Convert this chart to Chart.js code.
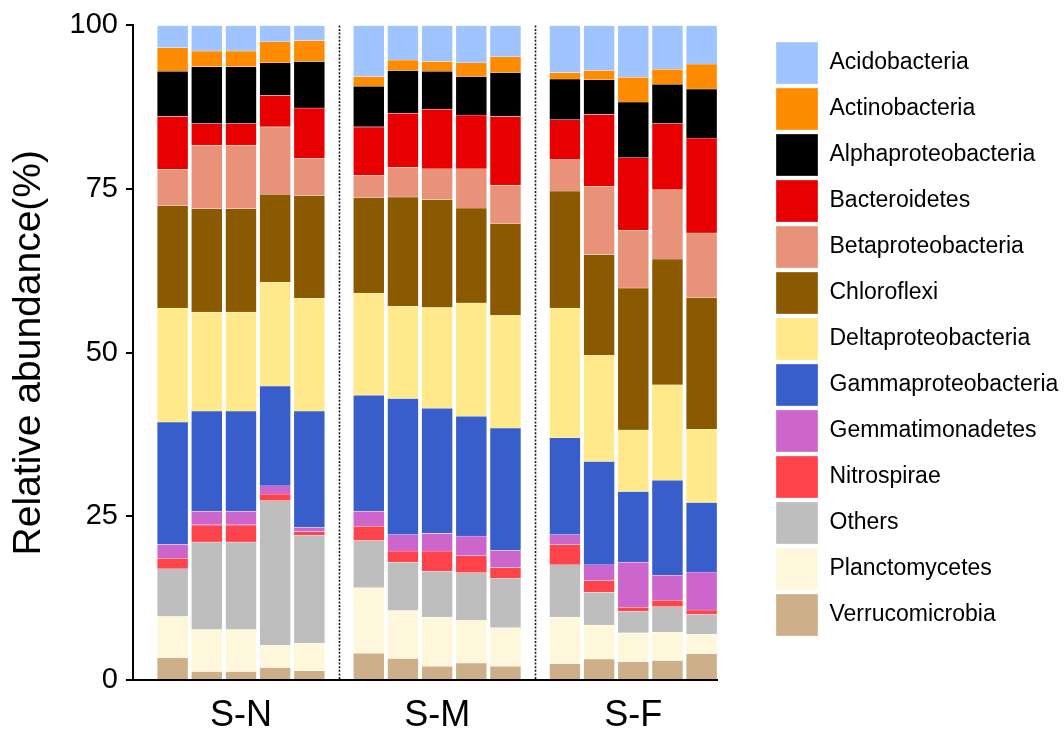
<!DOCTYPE html>
<html lang="en">
<head>
    <meta charset="UTF-8">
    <title>Relative abundance</title>
    <style>
        body { margin: 0; background: #fff; }
        #chart-holder { width: 1064px; height: 733px; }
    </style>
</head>
<body>
    <div id="chart-holder">
        <canvas id="abundanceChart" width="1064" height="733"></canvas>
    </div>

    <script src="https://cdn.jsdelivr.net/npm/chart.js"></script>
    <script>
        // groups of 5 samples each (S-N, S-M, S-F)
        const groups = ['S-N', 'S-M', 'S-F'];
        const perGroup = 5;

        // legend order, top to bottom
        const taxa = ['Acidobacteria', 'Actinobacteria', 'Alphaproteobacteria', 'Bacteroidetes',
            'Betaproteobacteria', 'Chloroflexi', 'Deltaproteobacteria', 'Gammaproteobacteria',
            'Gemmatimonadetes', 'Nitrospirae', 'Others', 'Planctomycetes', 'Verrucomicrobia'];

        const taxaColors = ['#a0c4ff', '#ff8c00', '#000000', '#e80000', '#e8927a', '#8b5a00',
            '#ffe98a', '#385ecc', '#cc66cc', '#ff434b', '#bebebe', '#fff7dc', '#cdb08a'];

        // relative abundance (%) per sample: S-N x5, S-M x5, S-F x5
        const acidobacteria       = [3.4, 3.9, 3.9, 2.5, 2.3,   7.8, 5.3, 5.5, 5.7, 4.8,   7.2, 6.9, 7.9, 6.7, 5.9];
        const actinobacteria      = [3.6, 2.4, 2.4, 3.2, 3.2,   1.5, 1.6, 1.5, 2.1, 2.4,   1.0, 1.4, 3.8, 2.3, 3.8];
        const alphaproteobacteria = [6.9, 8.7, 8.7, 5.0, 7.1,   6.2, 6.5, 5.8, 5.9, 6.7,   6.2, 5.3, 8.5, 6.0, 7.5];
        const bacteroidetes       = [8.1, 3.3, 3.3, 4.8, 7.7,   7.4, 8.3, 9.1, 8.2, 10.5,  6.1, 11.0, 11.1, 10.1, 14.5];
        const betaproteobacteria  = [5.5, 9.7, 9.7, 10.3, 5.7,  3.4, 4.5, 4.7, 6.0, 5.9,   4.8, 10.4, 8.8, 10.6, 9.9];
        const chloroflexi         = [15.7, 15.8, 15.8, 13.4, 15.7,  14.6, 16.7, 16.5, 14.5, 14.0,  17.9, 15.4, 21.7, 19.2, 20.1];
        const deltaproteobacteria = [17.4, 15.1, 15.1, 15.9, 17.2,  15.6, 14.1, 15.4, 17.3, 17.2,  19.8, 16.2, 9.4, 14.6, 11.2];
        const gammaproteobacteria = [18.7, 15.3, 15.3, 15.2, 17.8,  17.7, 20.8, 19.1, 18.3, 18.7,  14.8, 15.8, 10.8, 14.5, 10.6];
        const gemmatimonadetes    = [2.1, 2.1, 2.1, 1.3, 0.6,   2.3, 2.5, 2.7, 3.0, 2.6,   1.5, 2.4, 6.9, 3.8, 5.8];
        const nitrospirae         = [1.6, 2.6, 2.6, 1.0, 0.6,   2.2, 1.7, 3.1, 2.6, 1.7,   3.1, 1.8, 0.6, 1.0, 0.7];
        const others              = [7.3, 13.4, 13.4, 22.1, 16.5,  7.2, 7.4, 7.0, 7.3, 7.5,  8.0, 5.0, 3.3, 3.9, 3.0];
        const planctomycetes      = [6.3, 6.4, 6.4, 3.4, 4.2,   10.0, 7.3, 7.5, 6.5, 5.9,  7.1, 5.2, 4.4, 4.3, 3.0];
        const verrucomicrobia     = [3.4, 1.3, 1.3, 1.9, 1.4,   4.1, 3.3, 2.1, 2.6, 2.1,   2.5, 3.2, 2.8, 3.0, 4.0];

        const taxaValues = [acidobacteria, actinobacteria, alphaproteobacteria, bacteroidetes,
            betaproteobacteria, chloroflexi, deltaproteobacteria, gammaproteobacteria,
            gemmatimonadetes, nitrospirae, others, planctomycetes, verrucomicrobia];

        const yTicks = [0, 25, 50, 75, 100];

        // layout on the linear x axis: one unit per bar, extra space between groups
        const groupStride = 5.74;
        const xOf = (i) => Math.floor(i / perGroup) * groupStride + (i % perGroup);

        // the left padding is negative so the right legend gets enough room;
        // the y axis box is widened by the same amount
        const padLeft = -900;
        const legendWidth = 290;

        Chart.defaults.font.family = "'Liberation Sans', Arial, Helvetica, sans-serif";
        Chart.defaults.color = '#000';

        // stack from the bottom (Verrucomicrobia) up to Acidobacteria
        const datasets = taxa.map((name, k) => ({
            label: name,
            data: taxaValues[k].map((v, i) => ({ x: xOf(i), y: v })),
            backgroundColor: taxaColors[k],
            borderColor: 'rgba(255,255,255,0.55)',
            borderWidth: 0.6,
            barThickness: 31
        })).reverse();

        // dotted lines between the groups
        const groupSeparators = {
            id: 'groupSeparators',
            afterDatasetsDraw(chart) {
                const { ctx, chartArea, scales } = chart;
                ctx.save();
                ctx.strokeStyle = '#1a1a1a';
                ctx.lineWidth = 1.6;
                ctx.setLineDash([2, 1.6]);
                for (let g = 1; g < groups.length; g++) {
                    const lastBar = (g - 1) * groupStride + perGroup - 1;
                    const px = Math.round(scales.x.getPixelForValue((lastBar + g * groupStride) / 2)) + 0.5;
                    ctx.beginPath();
                    ctx.moveTo(px, chartArea.top);
                    ctx.lineTo(px, chartArea.bottom);
                    ctx.stroke();
                }
                ctx.restore();
            }
        };

        const ctx = document.getElementById('abundanceChart').getContext('2d');
        const abundanceChart = new Chart(ctx, {
            type: 'bar',
            data: { datasets: datasets },
            plugins: [groupSeparators],
            options: {
                responsive: false,
                animation: false,
                layout: { padding: { top: 22, right: 1064 - 772 - legendWidth, bottom: 0, left: padLeft } },
                plugins: {
                    tooltip: { enabled: false },
                    legend: {
                        position: 'right',
                        align: 'start',
                        reverse: true,
                        maxWidth: legendWidth,
                        title: { display: true, text: '', font: { size: 12, lineHeight: 1 }, padding: { top: 0, bottom: 4 } },
                        labels: {
                            boxWidth: 42,
                            boxHeight: 42,
                            padding: 4,
                            color: '#000',
                            font: { size: 23 }
                        }
                    }
                },
                scales: {
                    x: {
                        type: 'linear',
                        stacked: true,
                        offset: false,
                        min: -1.16,
                        max: 15.93,
                        grid: { display: false, drawTicks: false, offset: false },
                        border: { display: true, color: '#000', width: 2 },
                        afterBuildTicks: (scale) => {
                            scale.ticks = groups.map((g, i) => ({ value: i * groupStride + (perGroup - 1) / 2 }));
                        },
                        ticks: {
                            callback: (value, index) => groups[index],
                            autoSkip: false,
                            maxRotation: 0,
                            padding: 14,
                            font: { size: 36 }
                        },
                        afterFit: (scale) => { scale.height = 53; }
                    },
                    y: {
                        stacked: true,
                        min: 0,
                        max: 100,
                        afterBuildTicks: (scale) => {
                            scale.ticks = yTicks.map(v => ({ value: v }));
                        },
                        grid: { display: true, drawOnChartArea: false, drawTicks: true, tickLength: 7, color: '#000', lineWidth: 2 },
                        border: { display: true, color: '#000', width: 2 },
                        ticks: { padding: 8, font: { size: 29 } },
                        title: {
                            display: true,
                            text: 'Relative abundance(%)',
                            font: { size: 39 },
                            padding: { top: 6 - padLeft, bottom: 0 }
                        },
                        afterFit: (scale) => { scale.width = 133 - padLeft; }
                    },
                    // empty spacer between the plot and the legend
                    yGap: {
                        type: 'linear',
                        position: 'right',
                        display: true,
                        grid: { display: false },
                        border: { display: false },
                        ticks: { display: false },
                        afterFit: (scale) => { scale.width = 55; }
                    }
                }
            }
        });
    </script>
</body>
</html>
